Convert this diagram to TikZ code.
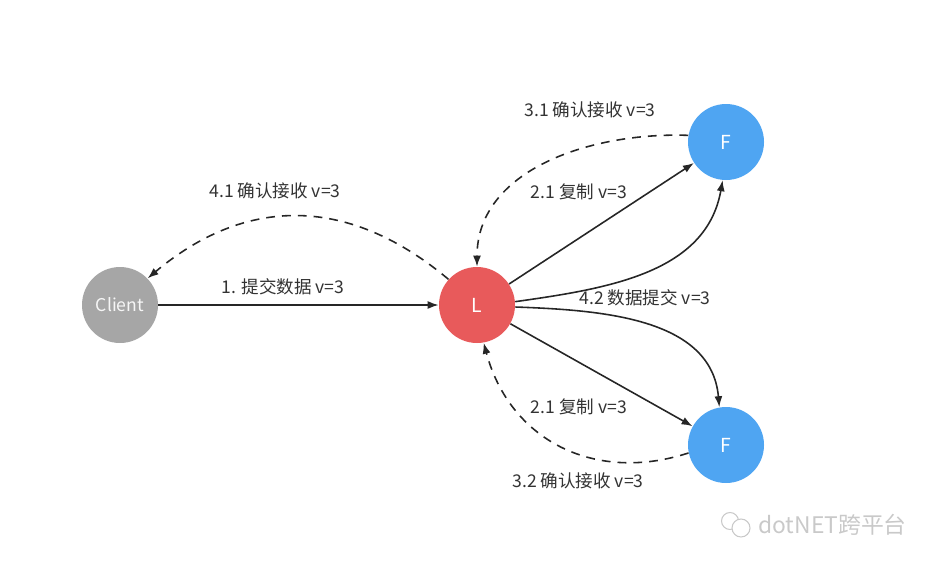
\documentclass[tikz,border=0pt]{standalone}
\usepackage{fontspec}
\setmainfont{Noto Sans CJK SC}
\usepackage{tikz}
\usetikzlibrary{arrows.meta,positioning}
\definecolor{clientgray}{HTML}{A6A6A6}
\definecolor{leadred}{HTML}{E85A5B}
\definecolor{follblue}{HTML}{4FA5F2}
\definecolor{inkgray}{HTML}{333333}
\definecolor{markgray}{HTML}{C9C9C9}
\tikzset{peer/.style={circle,minimum size=15.2mm,inner sep=0pt,text=white,font=\fontsize{11}{13}\selectfont},msg/.style={font=\fontsize{10}{12}\selectfont,text=inkgray,inner sep=1pt},arr/.style={-{Latex[length=2.2mm,width=1.6mm]},line width=0.9pt,draw=black!85},ack/.style={arr,dash pattern=on 5pt off 4pt}}
\begin{document}
\begin{tikzpicture}
\useasboundingbox (0,0) rectangle (18.74,11.36);
\node[peer,fill=clientgray,text=white!90!clientgray,font=\fontsize{10}{12}\selectfont] (client) at (2.40,5.26) {Client};
\node[peer,fill=leadred] (lead) at (9.54,5.26) {L};
\node[peer,fill=follblue] (fa) at (14.52,8.52) {F};
\node[peer,fill=follblue] (fb) at (14.52,2.46) {F};
\node[msg] (m1) at (5.66,5.62) {1. 提交数据 v=3};
\node[msg] (m41) at (5.50,7.54) {4.1 确认接收 v=3};
\node[msg] (m31) at (11.80,9.16) {3.1 确认接收 v=3};
\node[msg] (m21a) at (11.58,7.52) {2.1 复制 v=3};
\node[msg] (m42) at (12.90,5.40) {4.2 数据提交 v=3};
\node[msg] (m21b) at (11.58,3.22) {2.1 复制 v=3};
\node[msg] (m32) at (11.56,1.74) {3.2 确认接收 v=3};
\draw[arr] (client)--(lead);
\draw[arr] (lead)--(fa);
\draw[arr] (lead)--(fb);
\draw[arr] (lead.5) to[out=8,in=-100] (fa.-95);
\draw[arr] (lead.-3) to[out=-2,in=95] (fb.100);
\draw[ack] (fa.170) to[out=178,in=90] (lead.north);
\draw[ack] (fb.192) to[out=198,in=-75,looseness=1.1] (lead.-80);
\draw[ack] (lead.138) to[out=140,in=40,looseness=1.1] (client.44);
% watermark
\node[font=\fontsize{13}{15}\selectfont,text=markgray] (mark) at (16.65,0.86) {dotNET跨平台};
\node[circle,draw=markgray,line width=0.6pt,minimum size=3.4mm,inner sep=0pt] (bub1) at (14.60,0.94) {};
\node[circle,draw=markgray,fill=white,line width=0.6pt,minimum size=3.6mm,inner sep=0pt] (bub2) at (14.82,0.80) {};
\end{tikzpicture}
\end{document}
